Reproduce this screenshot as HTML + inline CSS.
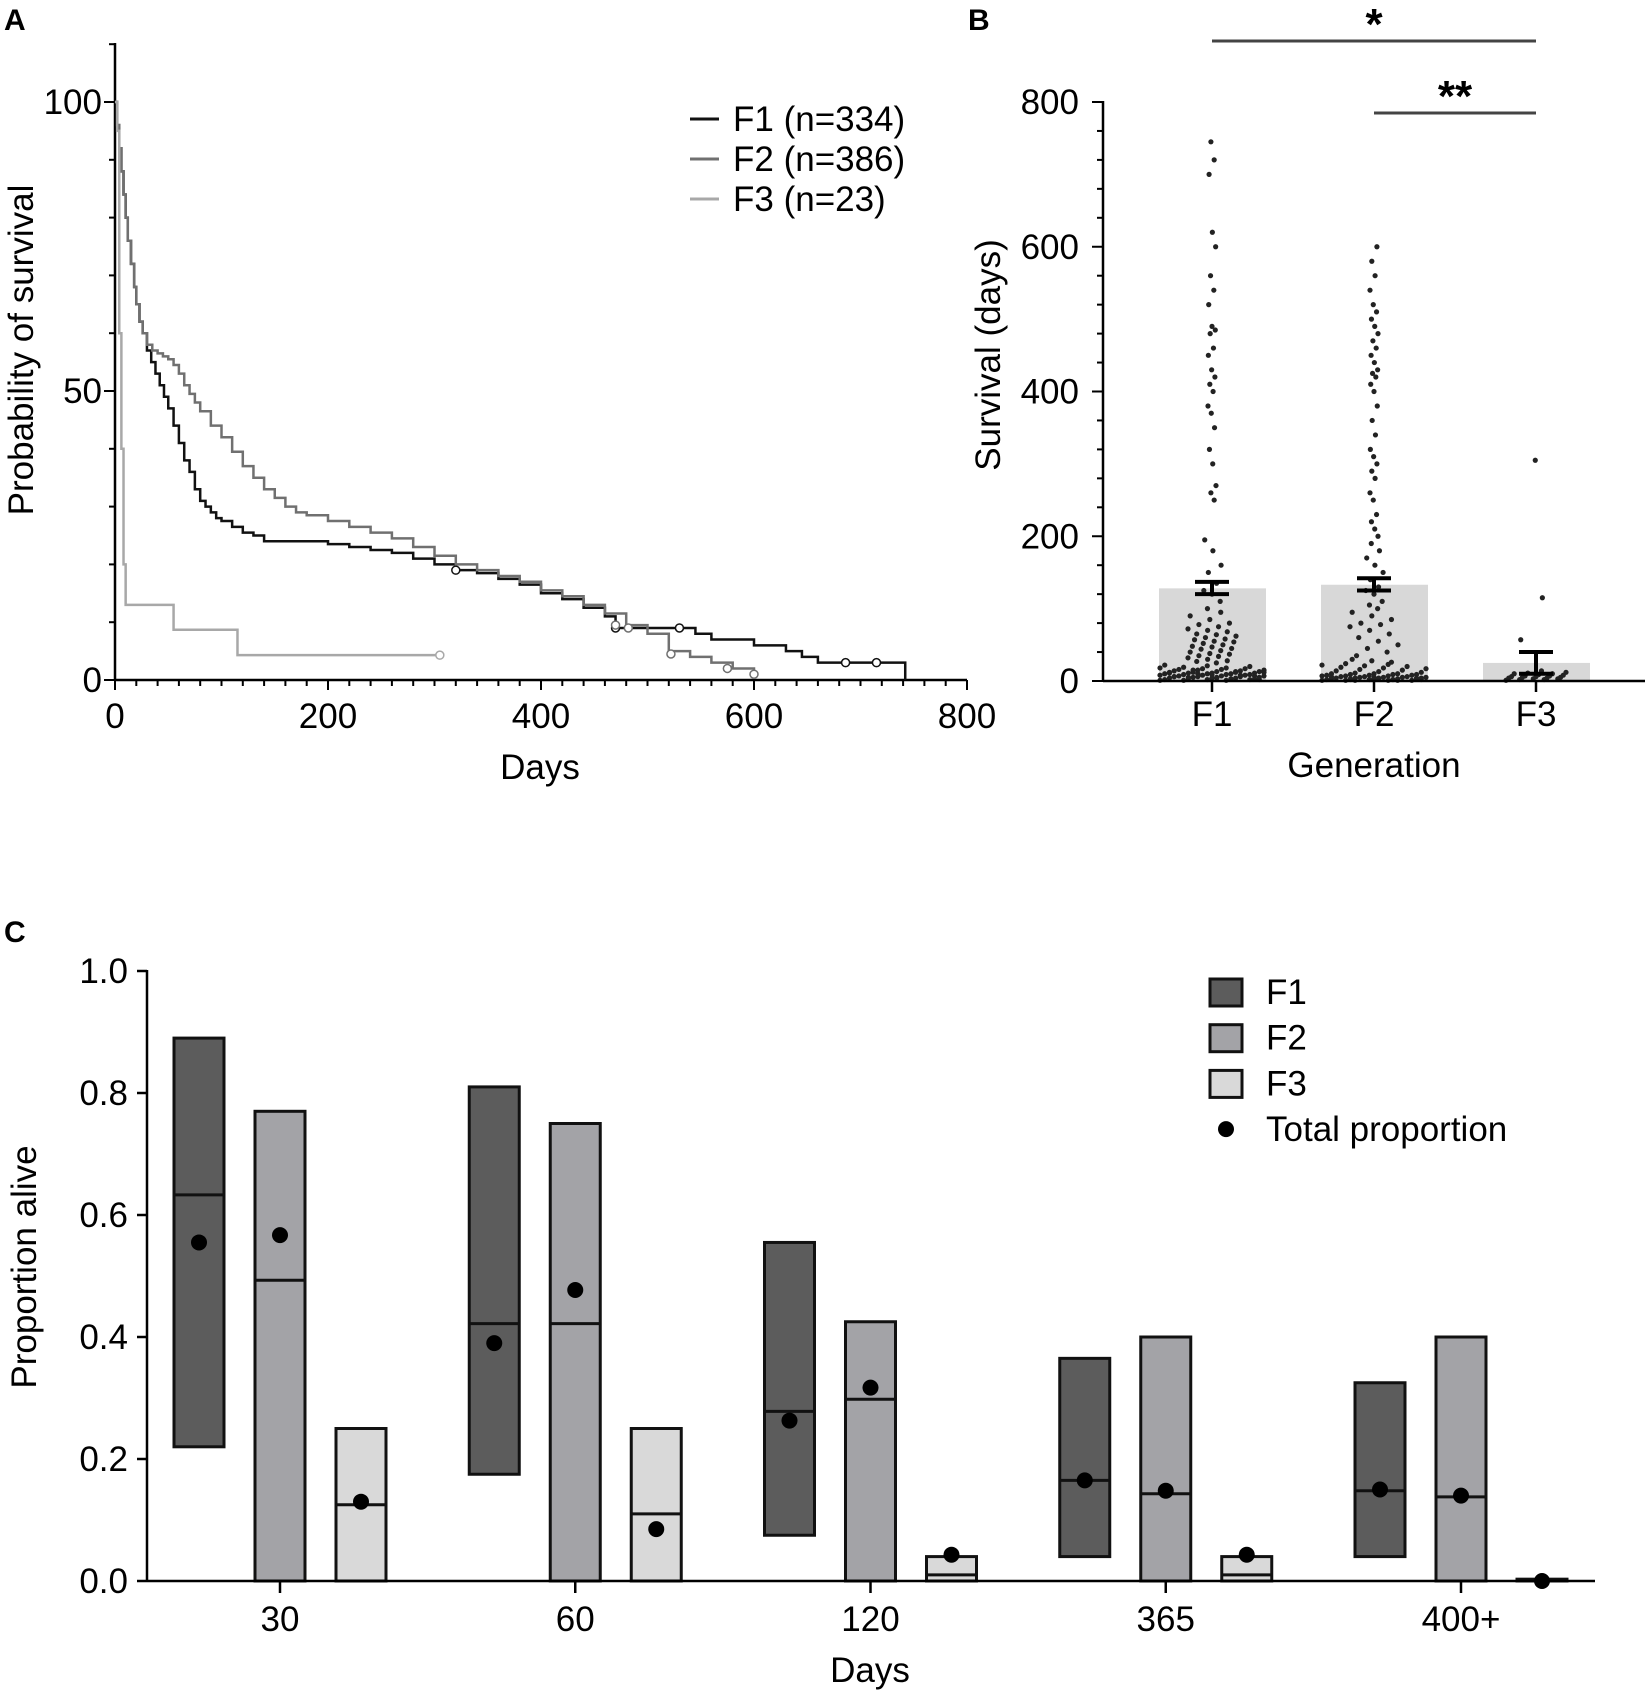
<!DOCTYPE html>
<html><head><meta charset="utf-8"><style>
html,body{margin:0;padding:0;background:#fff;}
svg{display:block;font-family:"Liberation Sans",Arial,sans-serif;}
</style></head><body>
<svg id="fig" width="1650" height="1696" viewBox="0 0 1650 1696">
<text x="4" y="30" font-size="30" font-weight="bold">A</text>
<text x="968" y="30" font-size="30" font-weight="bold">B</text>
<text x="4" y="942" font-size="30" font-weight="bold">C</text>
<g id="pa"></g>
<g id="pb"></g>
<g id="pc"></g>
</svg>
<script>
// ---------- Panel A data ----------
const kmF1T=[0,2,4,6,8,10,12,15,18,20,23,26,30,34,38,42,46,50,55,60,65,70,75,80,85,90,95,100,110,120,130,140,160,180,200,220,240,260,280,300,320,340,360,380,400,420,440,460,470,500,530,545,560,600,630,645,660,742];
const kmF1S=[100,96,92,88,84,80,76,72,68,65,62,60,57,55,53,51,49,47,44,41,38,36,33,31,30,29,28,27.5,26.5,25.5,25,24,24,24,23.5,23,22.5,22,21,20,19,18.5,17.5,16.5,15,14,12.5,11,9,9,9,8,7,6,5,4,3,3];
const kmF1C=[[320,19],[470,9],[530,9],[686,3],[715,3]];
const kmF2T=[0,2,4,6,8,10,12,15,18,20,23,26,30,35,40,45,50,55,60,65,70,75,80,90,100,110,120,130,140,150,160,170,180,200,220,240,260,280,300,320,340,360,380,400,420,440,460,480,500,520,540,560,580,600];
const kmF2S=[100,96,92,88,84,80,76,72,68,65,62,60,58,57,56.5,56,55.5,54.5,53,51,49.5,48,46.5,44,42,39.5,37,35,33,31.5,30,29,28.5,27.5,26.5,25.5,24.5,23,21.5,20,19,18,17,15.5,14.5,13,11.5,9.5,8,5,4,3,2,1];
const kmF2C=[[470,9.5],[482,9],[522,4.5],[575,2],[600,1]];
const kmF3T=[0,2,4,6,8,10,55,115,305];
const kmF3S=[100,95,60,40,20,13,8.7,4.3,4.3];
const kmF3C=[[305,4.3]];
const aXTicks=[0,200,400,600,800];
const aYTicks=[0,50,100];
const legendA=["F1 (n=334)","F2 (n=386)","F3 (n=23)"];

// ---------- Panel B data ----------
const bCats=["F1","F2","F3"];
const bMeans=[128,133,25];
const bErrLo=[120,125,10];
const bErrHi=[137,142,40];
const bYTicks=[0,200,400,600,800];
const bF1=[1,1,1,2,2,2,3,3,3,4,4,4,5,5,5,6,6,6,7,7,7,8,8,8,9,9,9,10,10,10,11,11,11,12,12,12,13,13,14,14,15,15,16,16,17,17,18,18,19,20,21,22,3,5,7,9,11,13,15,2,4,6,8,10,12,25,27,28,30,32,34,35,37,38,40,42,44,45,47,48,50,52,54,55,57,58,60,62,64,65,68,70,72,75,78,80,85,90,95,100,110,120,125,135,150,160,180,195,250,260,270,300,320,350,370,380,400,410,420,430,450,460,480,485,490,520,540,560,600,620,700,720,745];
const bF2=[1,1,1,1,2,2,2,2,3,3,3,3,4,4,4,4,5,5,5,5,6,6,6,7,7,7,8,8,8,9,9,9,10,10,10,11,12,13,14,15,16,17,18,19,20,21,22,23,24,26,28,30,2,3,4,5,6,1,1,2,3,35,40,45,50,55,60,65,70,75,78,80,85,90,95,100,105,110,120,125,130,140,150,160,170,180,190,200,210,220,230,250,260,280,290,300,310,320,340,360,380,400,410,420,425,430,440,450,460,470,480,490,500,510,520,540,560,580,600];
const bF3=[1,2,2,3,3,4,4,5,5,6,6,7,7,8,9,10,10,11,12,14,57,115,305];
const bSig=[["*",0,2,41],["**",1,2,113]];

// ---------- Panel C data ----------
const cCats=["30","60","120","365","400+"];
const cMinF1=[0.22,0.175,0.075,0.04,0.04];
const cMaxF1=[0.89,0.81,0.555,0.365,0.325];
const cMidF1=[0.633,0.422,0.278,0.165,0.148];
const cDotF1=[0.555,0.39,0.263,0.165,0.15];
const cMinF2=[0,0,0,0,0];
const cMaxF2=[0.77,0.75,0.425,0.4,0.4];
const cMidF2=[0.493,0.422,0.298,0.143,0.138];
const cDotF2=[0.567,0.477,0.317,0.148,0.14];
const cMinF3=[0,0,0,0,0];
const cMaxF3=[0.25,0.25,0.04,0.04,0.003];
const cMidF3=[0.125,0.11,0.01,0.01,0.0];
const cDotF3=[0.13,0.085,0.043,0.043,0.0];
const cYTicks=[0,0.2,0.4,0.6,0.8,1.0];
const legendC=["F1","F2","F3","Total proportion"];

const NS="http://www.w3.org/2000/svg";
const FS=35;
function mk(parent,tag,attrs,text){const e=document.createElementNS(NS,tag);for(const k in attrs)e.setAttribute(k,attrs[k]);if(text!==undefined)e.textContent=text;parent.appendChild(e);return e;}

// ===== Panel A =====
(function(){
const g=document.getElementById('pa');
const X=d=>115+d*(852/800), Y=v=>680-v*5.78;
let e=mk(g,'line',{x1:115,y1:43,x2:115,y2:680,stroke:'#000','stroke-width':2.5});

e=mk(g,'line',{x1:115,y1:680,x2:967,y2:680,stroke:'#000','stroke-width':2.5});

for(let d=0;d<=800;d+=20){mk(g,'line',{x1:X(d),y1:680,x2:X(d),y2:d%200===0?690:686,stroke:'#000','stroke-width':2});}
for(let v=0;v<=110;v+=10){mk(g,'line',{x1:115,y1:Y(v),x2:v%50===0?104:109,y2:Y(v),stroke:'#000','stroke-width':2});}
aXTicks.forEach(t=>{e=mk(g,'text',{x:X(t),y:728,'font-size':FS,'text-anchor':'middle'},String(t));
});
aYTicks.forEach(t=>{e=mk(g,'text',{x:102,y:Y(t)+12,'font-size':FS,'text-anchor':'end'},String(t));
});
e=mk(g,'text',{x:540,y:779,'font-size':FS,'text-anchor':'middle'},'Days');

e=mk(g,'text',{x:0,y:0,'font-size':FS,'text-anchor':'middle',transform:'translate(33,350) rotate(-90)'},'Probability of survival');

const series=[[kmF1T,kmF1S,kmF1C,'#111'],[kmF2T,kmF2S,kmF2C,'#707070'],[kmF3T,kmF3S,kmF3C,'#a8a8a8']];
series.forEach((s,i)=>{const [T,S,C,col]=s;let d='M'+X(T[0])+','+Y(S[0]);
for(let k=1;k<T.length;k++){d+=' H'+X(T[k])+' V'+Y(S[k]);}
if(i===0)d+=' V'+Y(0);
e=mk(g,'path',{d:d,fill:'none',stroke:col,'stroke-width':2.5});

C.forEach(c=>{e=mk(g,'circle',{cx:X(c[0]),cy:Y(c[1]),r:4,fill:'#fff',stroke:col,'stroke-width':1.5});
});
e=mk(g,'line',{x1:690,y1:119+i*40,x2:719,y2:119+i*40,stroke:col,'stroke-width':3});

e=mk(g,'text',{x:733,y:131+i*40,'font-size':FS},legendA[i]);

});
})();

// ===== Panel B =====
(function(){
const g=document.getElementById('pb');
const cx=i=>1212+i*162, Y=v=>681-v*(579/800);
let e;
bCats.forEach((c,i)=>{
e=mk(g,'rect',{x:cx(i)-53,y:Y(bMeans[i]),width:107,height:Y(0)-Y(bMeans[i]),fill:'#d8d8d8'});

});
[bF1,bF2,bF3].forEach((vals,i)=>{
vals.forEach((v,k)=>{const hw=v<25?(i===2?30:52):(v<100?24:(v<200?10:4));
const off=(((k*37)%23)-11)/11*hw;
e=mk(g,'circle',{cx:cx(i)+off,cy:Y(v),r:2.6,fill:'#222'});
});
});
bCats.forEach((c,i)=>{
e=mk(g,'path',{d:`M${cx(i)} ${Y(bErrLo[i])}V${Y(bErrHi[i])}M${cx(i)-17} ${Y(bErrLo[i])}H${cx(i)+17}M${cx(i)-17} ${Y(bErrHi[i])}H${cx(i)+17}`,stroke:'#000','stroke-width':4,fill:'none'});

mk(g,'line',{x1:cx(i),y1:681,x2:cx(i),y2:692,stroke:'#000','stroke-width':2.5});
e=mk(g,'text',{x:cx(i),y:726,'font-size':FS,'text-anchor':'middle'},c);

});
e=mk(g,'line',{x1:1103,y1:101,x2:1103,y2:681,stroke:'#000','stroke-width':2.5});

e=mk(g,'line',{x1:1103,y1:681,x2:1645,y2:681,stroke:'#000','stroke-width':2.5});

for(let v=0;v<=800;v+=40){mk(g,'line',{x1:1103,y1:Y(v),x2:v%200===0?1092:1097,y2:Y(v),stroke:'#000','stroke-width':2});}
bYTicks.forEach(t=>{e=mk(g,'text',{x:1079,y:Y(t)+12,'font-size':FS,'text-anchor':'end'},String(t));
});
e=mk(g,'text',{x:0,y:0,'font-size':FS,'text-anchor':'middle',transform:'translate(1000,355) rotate(-90)'},'Survival (days)');

e=mk(g,'text',{x:1374,y:777,'font-size':FS,'text-anchor':'middle'},'Generation');

bSig.forEach((s,k)=>{const [lab,a,b,y]=s;
e=mk(g,'line',{x1:cx(a),y1:y,x2:cx(b),y2:y,stroke:'#444','stroke-width':3});

e=mk(g,'text',{x:(cx(a)+cx(b))/2,y:y-2,'font-size':44,'font-weight':'bold','text-anchor':'middle'},lab);

});
})();

// ===== Panel C =====
(function(){
const g=document.getElementById('pc');
const cx=i=>280+i*295.25, Y=v=>1581-v*610;
let e;
const groups=[[cMinF1,cMaxF1,cMidF1,cDotF1,'#5c5c5c',-81],[cMinF2,cMaxF2,cMidF2,cDotF2,'#a3a3a7',0],[cMinF3,cMaxF3,cMidF3,cDotF3,'#d9d9d9',81]];
cCats.forEach((c,i)=>{
groups.forEach((gr,j)=>{const [mn,mx,md,dt,col,off]=gr;const x=cx(i)+off;
e=mk(g,'rect',{x:x-25,y:Y(mx[i]),width:50,height:Math.max(Y(mn[i])-Y(mx[i]),1),fill:col,stroke:'#111','stroke-width':3});

e=mk(g,'line',{x1:x-25,y1:Y(md[i]),x2:x+25,y2:Y(md[i]),stroke:'#111','stroke-width':3});

});
});
e=mk(g,'line',{x1:147,y1:970,x2:147,y2:1581,stroke:'#000','stroke-width':2.5});

e=mk(g,'line',{x1:147,y1:1581,x2:1595,y2:1581,stroke:'#000','stroke-width':2.5});

cCats.forEach((c,i)=>{
groups.forEach((gr,j)=>{const dt=gr[3];
e=mk(g,'circle',{cx:cx(i)+gr[5],cy:Y(dt[i]),r:8,fill:'#000'});
});
mk(g,'line',{x1:cx(i),y1:1581,x2:cx(i),y2:1593,stroke:'#000','stroke-width':2.5});
e=mk(g,'text',{x:cx(i),y:1631,'font-size':FS,'text-anchor':'middle'},c);

});
cYTicks.forEach(t=>{mk(g,'line',{x1:147,y1:Y(t),x2:137,y2:Y(t),stroke:'#000','stroke-width':2.5});
e=mk(g,'text',{x:128,y:Y(t)+12,'font-size':FS,'text-anchor':'end'},t.toFixed(1));
});
e=mk(g,'text',{x:0,y:0,'font-size':FS,'text-anchor':'middle',transform:'translate(36,1267) rotate(-90)'},'Proportion alive');

e=mk(g,'text',{x:870,y:1682,'font-size':FS,'text-anchor':'middle'},'Days');

const cols=['#5c5c5c','#a3a3a7','#d9d9d9'];
legendC.forEach((l,k)=>{const y=992+k*45.7;
if(k<3){e=mk(g,'rect',{x:1210,y:y-13,width:32,height:27,fill:cols[k],stroke:'#111','stroke-width':3});}
else{e=mk(g,'circle',{cx:1226,cy:y,r:8,fill:'#000'});}

e=mk(g,'text',{x:1266,y:y+12,'font-size':FS},l);

});
})();
</script>
</body></html>
